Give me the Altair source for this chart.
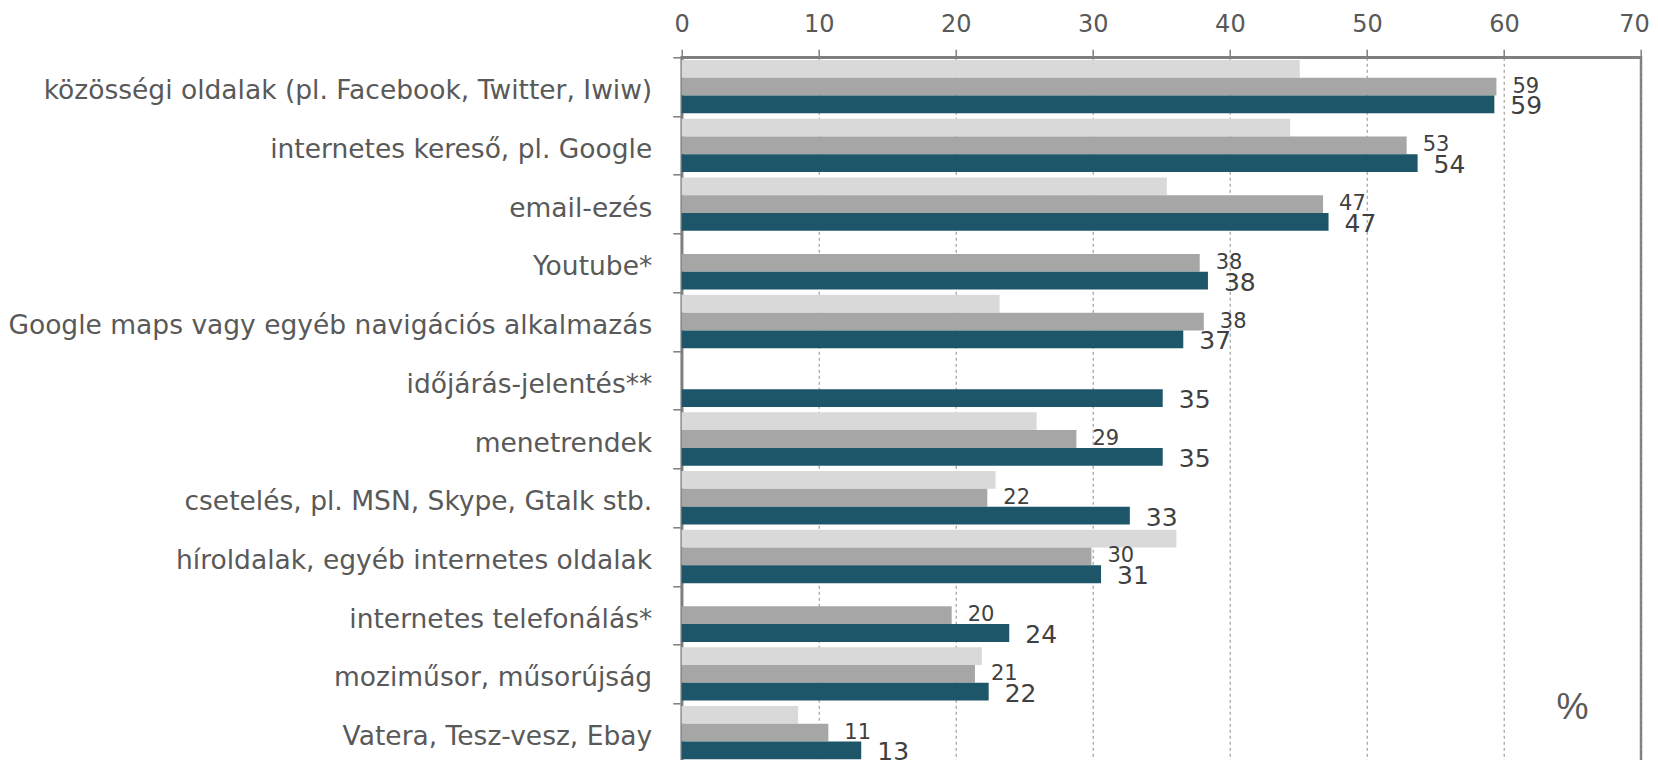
import altair as alt
import pandas as pd

categories = [
    "közösségi oldalak (pl. Facebook, Twitter, Iwiw)",
    "internetes kereső, pl. Google",
    "email-ezés",
    "Youtube*",
    "Google maps vagy egyéb navigációs alkalmazás",
    "időjárás-jelentés**",
    "menetrendek",
    "csetelés, pl. MSN, Skype, Gtalk stb.",
    "híroldalak, egyéb internetes oldalak",
    "internetes telefonálás*",
    "moziműsor, műsorújság",
    "Vatera, Tesz-vesz, Ebay",
]
series = ["2010", "2011", "2012"]
light = [45.1, 44.4, 35.4, None, 23.2, None, 25.9, 22.9, 36.1, None, 21.9, 8.5]
medium = [59.45, 52.9, 46.8, 37.8, 38.1, None, 28.8, 22.3, 29.9, 19.7, 21.4, 10.7]
dark = [59.3, 53.7, 47.2, 38.4, 36.6, 35.1, 35.1, 32.7, 30.6, 23.9, 22.4, 13.1]
colors = ["#D9D9D9", "#A6A6A6", "#1E5669"]
x_ticks = [0, 10, 20, 30, 40, 50, 60, 70]

rows = []
for s, vals in zip(series, [light, medium, dark]):
    for c, v in zip(categories, vals):
        if v is not None:
            rows.append({"category": c, "series": s, "value": v})
df = pd.DataFrame(rows)

FONT = "DejaVu Sans"

y_enc = alt.Y(
    "category:N",
    sort=categories,
    scale=alt.Scale(paddingInner=0, paddingOuter=0),
    axis=alt.Axis(
        title=None,
        orient="left",
        tickBand="extent",
        tickSize=9,
        tickColor="#7f7f7f",
        tickWidth=1.5,
        labelPadding=21,
        labelOffset=4,
        labelFontSize=26.5,
        labelFont=FONT,
        labelColor="#595959",
        labelLimit=900,
        domainColor="#7f7f7f",
        domainWidth=2.5,
        grid=False,
    ),
)
yoff_enc = alt.YOffset(
    "series:N", sort=series, scale=alt.Scale(paddingInner=0, paddingOuter=0.15)
)
x_enc = alt.X(
    "value:Q",
    scale=alt.Scale(domain=[0, 70], nice=False, zero=True),
    axis=alt.Axis(
        title=None,
        orient="top",
        values=x_ticks,
        tickSize=8,
        tickColor="#7f7f7f",
        tickWidth=1.5,
        labelPadding=13,
        labelFlush=False,
        labelOffset={"condition": {"test": "datum.value === 70", "value": -7}, "value": 0},
        labelFontSize=24,
        labelFont=FONT,
        labelColor="#595959",
        domainColor="#7f7f7f",
        domainWidth=2.5,
        grid=True,
        gridColor="#8c8c8c",
        gridDash=[3, 3],
        gridWidth=1,
    ),
)

base = alt.Chart(df)

bars = base.mark_bar().encode(
    x=x_enc,
    y=y_enc,
    yOffset=yoff_enc,
    color=alt.Color(
        "series:N",
        sort=series,
        scale=alt.Scale(domain=series, range=colors),
        legend=None,
    ),
)

lab_mid = base.transform_filter(alt.datum.series == series[1]).mark_text(
    align="left", baseline="middle", dx=16, fontSize=21, font=FONT, color="#404040"
).encode(
    x="value:Q",
    y=alt.Y("category:N", sort=categories),
    yOffset=alt.YOffset("series:N", sort=series),
    text=alt.Text("value:Q", format=".0f"),
)

lab_dark = base.transform_filter(alt.datum.series == series[2]).mark_text(
    align="left", baseline="middle", dx=16, dy=2, fontSize=25, font=FONT, color="#404040"
).encode(
    x="value:Q",
    y=alt.Y("category:N", sort=categories),
    yOffset=alt.YOffset("series:N", sort=series),
    text=alt.Text("value:Q", format=".0f"),
)

pct = alt.Chart(pd.DataFrame({"t": ["%"]})).mark_text(
    align="center", baseline="middle", fontSize=36, font="Liberation Sans", color="#595959"
).encode(x=alt.datum(65), y=alt.value(650.7), text="t:N")

chart = (
    alt.layer(bars, lab_mid, lab_dark, pct)
    .properties(
        width=959.3,
        height=704.7,
        autosize=alt.AutoSizeParams(type="none"),
        padding={"left": 673.7, "top": 49.3, "right": 9, "bottom": 0},
    )
    .configure_view(stroke="#7f7f7f", strokeWidth=2.5)
)

chart.save("out.html", embed_options={"renderer": "svg", "actions": False})
